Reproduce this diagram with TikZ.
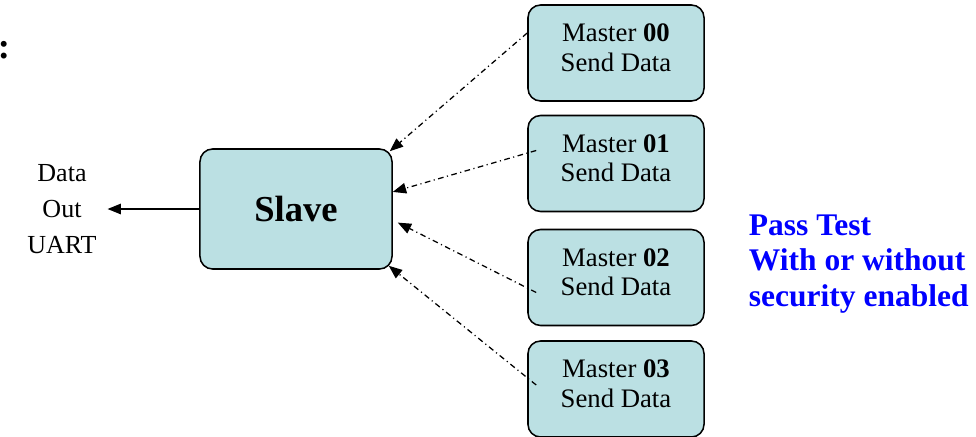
\documentclass[tikz,border=0pt]{standalone}
\usepackage{fontspec}
\setmainfont{Liberation Serif}
\usepackage{tikz}
\usetikzlibrary{calc,arrows.meta}
\definecolor{boxfill}{RGB}{187,224,227}
\definecolor{passblue}{RGB}{0,0,255}

\begin{document}
\begin{tikzpicture}[x=0.025cm,y=-0.025cm]
            \useasboundingbox (0,0) rectangle (976,436);
            \tikzset{unit/.style={draw=black,fill=boxfill,line width=1.1pt,rounded corners=9pt,align=center,inner sep=0pt},
                     master/.style={unit,minimum width=4.4cm,minimum height=2.4cm,text depth=0.27cm,font=\fontsize{19}{21.3}\selectfont},
                     tip/.style={-{Triangle[length=9.5pt,width=7.5pt]}},
                     feed/.style={tip,line width=0.9pt,dash pattern=on 4pt off 2.5pt on 0.8pt off 2.5pt}};

            \node at (4,50){\fontsize{26}{30}\selectfont\bfseries :};

            \node[unit,minimum width=4.8cm,minimum height=3cm,font=\fontsize{26}{30}\selectfont\bfseries] (slave) at (296,209){Slave};

            \node[master] (m0) at (616,53){Master \textbf{00}\\Send Data};
            \node[master] (m1) at (616,163.5){Master \textbf{01}\\Send Data};
            \node[master] (m2) at (616,277.5){Master \textbf{02}\\Send Data};
            \node[master] (m3) at (616,389){Master \textbf{03}\\Send Data};

            \node[align=center,font=\fontsize{18.5}{25.5}\selectfont] (uart) at (62,209){Data\\Out\\UART};

            \node[anchor=west,align=left,text=passblue,font=\fontsize{22.4}{25.5}\selectfont\bfseries] (pass) at (744,264){Pass Test\\With or without\\security enabled};

            \draw[tip,line width=0.9pt] (slave.west) -- ($(uart.east)+(6,0)$);

            \draw[feed] ($(m0.west)+(0,-20)$) -- ($(slave.north east)+(-3,3)$);
            \draw[feed] ($(m1.west)+(9,-13)$) -- (slave.10);
            \draw[feed] ($(m2.west)+(9,15)$) -- ($(slave.-8)+(5,0)$);
            \draw[feed] ($(m3.west)+(9,-4)$) -- ($(slave.south east)+(-4,-4)$);
          \end{tikzpicture}
\end{document}
